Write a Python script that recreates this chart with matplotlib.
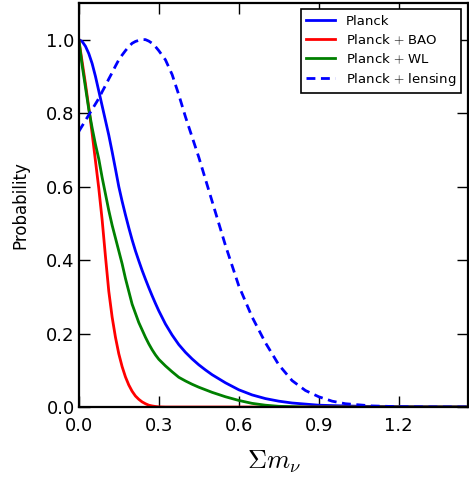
import matplotlib
matplotlib.use("Agg")
import matplotlib.pyplot as plt

# ------------------------------------------------------------
# data (sum of neutrino masses, eV)
# ------------------------------------------------------------
mnu = ([0.0, 0.0125, 0.025, 0.0375, 0.05, 0.0625, 0.075, 0.0875, 0.1,
        0.1125, 0.125, 0.1375, 0.15, 0.1625, 0.175, 0.1875, 0.2, 0.2125,
        0.225, 0.2375, 0.25, 0.2625, 0.275, 0.2875, 0.3]
       + [0.325, 0.35, 0.375, 0.4, 0.425, 0.45, 0.475, 0.5]
       + [0.55, 0.6, 0.65, 0.7, 0.75, 0.8, 0.85, 0.9, 0.95, 1.0]
       + [1.1, 1.2, 1.3, 1.4, 1.5])

planck = ([1.0, 0.995, 0.982, 0.962, 0.935, 0.90, 0.86, 0.82, 0.78, 0.74,
           0.695, 0.648, 0.60, 0.56, 0.523, 0.488, 0.455, 0.425, 0.398,
           0.372, 0.348, 0.325, 0.303, 0.282, 0.262]
          + [0.226, 0.196, 0.17, 0.149, 0.131, 0.115, 0.101, 0.088]
          + [0.066, 0.047, 0.033, 0.023, 0.016, 0.011, 0.008, 0.005, 0.004, 0.003]
          + [0.0015, 0.001, 0.0006, 0.0004, 0.0003])

planck_bao = ([1.0, 0.94, 0.88, 0.815, 0.745, 0.67, 0.595, 0.51, 0.41, 0.315,
               0.245, 0.19, 0.145, 0.11, 0.082, 0.06, 0.043, 0.03, 0.021,
               0.014, 0.009, 0.005, 0.003, 0.0015, 0.0005]
              + [0.0] * 8
              + [0.0] * 10
              + [0.0] * 5)

planck_wl = ([1.0, 0.93, 0.87, 0.81, 0.76, 0.715, 0.675, 0.625, 0.58, 0.535,
              0.495, 0.46, 0.425, 0.39, 0.35, 0.315, 0.28, 0.255, 0.23, 0.21,
              0.19, 0.172, 0.156, 0.142, 0.13]
             + [0.112, 0.096, 0.081, 0.071, 0.062, 0.054, 0.047, 0.04]
             + [0.028, 0.018, 0.01, 0.005, 0.002, 0.001, 0.0, 0.0, 0.0, 0.0]
             + [0.0] * 5)

planck_lens = ([0.75, 0.765, 0.78, 0.795, 0.81, 0.825, 0.84, 0.858, 0.875,
                0.893, 0.91, 0.928, 0.945, 0.958, 0.97, 0.981, 0.99, 0.995,
                0.998, 1.0, 1.0, 0.996, 0.99, 0.981, 0.97]
               + [0.945, 0.905, 0.85, 0.79, 0.735, 0.68, 0.62, 0.56]
               + [0.44, 0.33, 0.245, 0.175, 0.115, 0.072, 0.045, 0.028, 0.016, 0.009]
               + [0.003, 0.001, 0.0004, 0.0002, 0.0001])

xticks = [0.0, 0.3, 0.6, 0.9, 1.2]
yticks = [0.0, 0.2, 0.4, 0.6, 0.8, 1.0]

# ------------------------------------------------------------
# style
# ------------------------------------------------------------
plt.rcParams['font.family'] = ['DejaVu Sans']
plt.rcParams['mathtext.fontset'] = 'cm'

fig = plt.figure(figsize=(4.69, 4.80), dpi=100)
ax = fig.add_axes([0.168, 0.152, 0.83, 0.842])

ax.plot(mnu, planck, color="blue", lw=2, label="Planck")
ax.plot(mnu, planck_bao, color="red", lw=2, label=r"Planck $+$ BAO")
ax.plot(mnu, planck_wl, color="green", lw=2, label=r"Planck $+$ WL")
ax.plot(mnu, planck_lens, color="blue", lw=2, ls="--", dashes=(3.2, 2),
        label=r"Planck $+$ lensing")

ax.set_xlim(0, 1.46)
ax.set_ylim(0, 1.1)
ax.set_xticks(xticks)
ax.set_yticks(yticks)
ax.set_xticklabels([f"{t:.1f}" for t in xticks])
ax.set_yticklabels([f"{t:.1f}" for t in yticks])

ax.tick_params(direction="in", length=8, width=1, labelsize=13,
               top=True, right=True)
ax.tick_params(axis="x", pad=7)
ax.tick_params(axis="y", pad=3)

for s in ax.spines.values():
    s.set_linewidth(1.6)

ax.set_ylabel("Probability", fontsize=12, labelpad=12)
ax.set_xlabel(r"$\Sigma m_\nu$", fontsize=19, labelpad=10)

leg = ax.legend(loc="upper right", fontsize=9.5, fancybox=False,
                edgecolor="black", framealpha=1, borderaxespad=0.5,
                handlelength=2.2, labelspacing=0.35)
leg.get_frame().set_linewidth(1.2)

fig.savefig("out.png", dpi=100)
